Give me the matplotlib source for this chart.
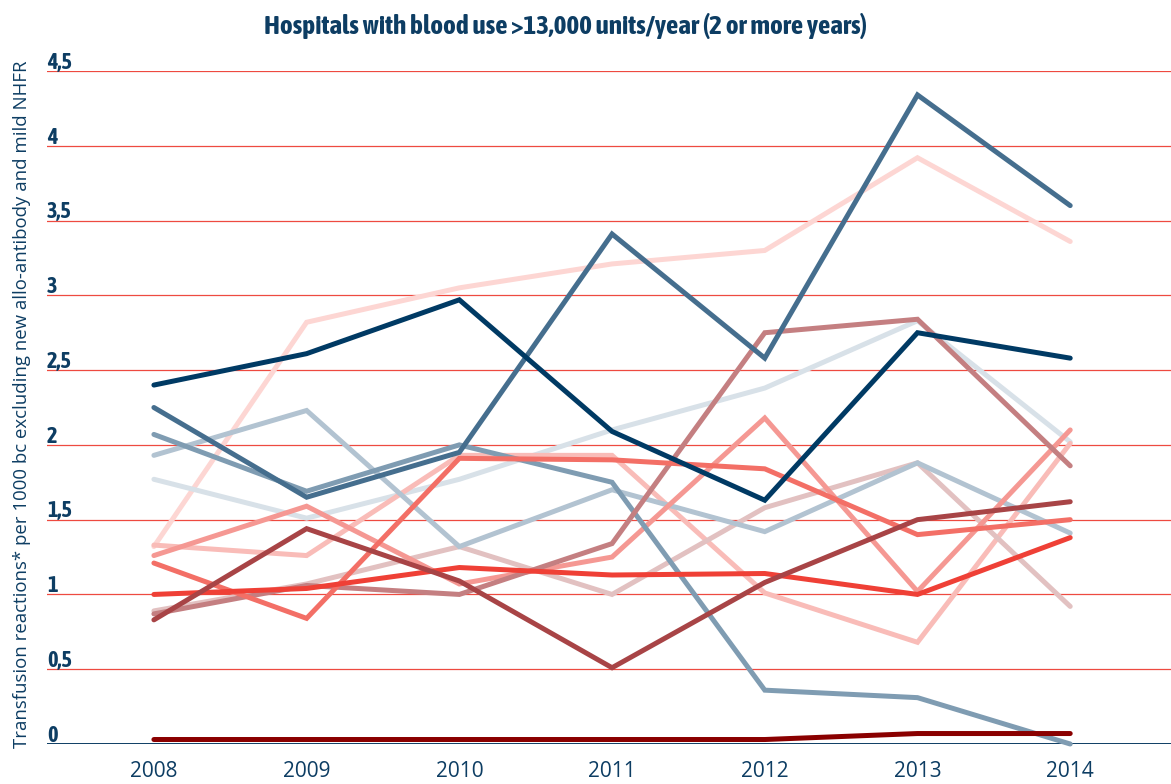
import matplotlib
matplotlib.use("Agg")
import matplotlib.pyplot as plt
import matplotlib.transforms as mtransforms

years = [2008, 2009, 2010, 2011, 2012, 2013, 2014]

s_navy       = [2.40, 2.61, 2.97, 2.09, 1.63, 2.75, 2.58]
s_steel      = [2.25, 1.65, 1.95, 3.41, 2.58, 4.34, 3.60]
s_greyblue   = [2.07, 1.69, 2.00, 1.75, 0.36, 0.31, 0.00]
s_lightblue  = [1.93, 2.23, 1.32, 1.70, 1.42, 1.88, 1.41]
s_paleblue   = [1.77, 1.51, 1.77, 2.10, 2.38, 2.83, 2.02]
s_palepink   = [1.32, 2.82, 3.05, 3.21, 3.30, 3.92, 3.36]
s_darkred    = [0.03, 0.03, 0.03, 0.03, 0.03, 0.07, 0.07]
s_brownred   = [0.83, 1.44, 1.09, 0.51, 1.08, 1.50, 1.62]
s_dustyrose  = [0.87, 1.06, 1.00, 1.34, 2.75, 2.84, 1.86]
s_dustypink  = [0.89, 1.07, 1.32, 1.00, 1.58, 1.88, 0.92]
s_red        = [1.00, 1.04, 1.18, 1.13, 1.14, 1.00, 1.38]
s_salmon     = [1.21, 0.84, 1.91, 1.90, 1.84, 1.40, 1.50]
s_lightsalm  = [1.26, 1.59, 1.07, 1.25, 2.18, 1.02, 2.10]
s_lightpink  = [1.33, 1.26, 1.93, 1.93, 1.01, 0.68, 2.01]

series = [
    (s_palepink,  "#fdd6d3"),
    (s_paleblue,  "#d8e1e8"),
    (s_lightpink, "#f9bcb8"),
    (s_dustypink, "#e2c1c1"),
    (s_lightblue, "#b2c3d1"),
    (s_lightsalm, "#f59893"),
    (s_greyblue,  "#7f9cb2"),
    (s_dustyrose, "#c47f81"),
    (s_salmon,    "#f36f66"),
    (s_red,       "#ef4036"),
    (s_brownred,  "#a84446"),
    (s_darkred,   "#8a0000"),
    (s_steel,     "#456e8e"),
    (s_navy,      "#003a64"),
]

yticks = [0, 0.5, 1, 1.5, 2, 2.5, 3, 3.5, 4, 4.5]
ytick_labels = ["0", "0,5", "1", "1,5", "2", "2,5", "3", "3,5", "4", "4,5"]

title = "Hospitals with blood use >13,000 units/year (2 or more years)"
ylabel = "Transfusion reactions* per 1000 bc excluding new allo-antibody and mild NHFR"

COND = ["Asap Condensed", "DejaVu Sans"]
REG = ["Open Sans", "DejaVu Sans"]
TXT = "#0d3d63"

fig = plt.figure(figsize=(11.71, 7.84), dpi=100)
ax = fig.add_axes([47 / 1171, 40 / 784, 1 - 47 / 1171, 673 / 784])
ax.set_xlim(2007.3, 2014.66)
ax.set_ylim(0, 4.5)

for y in yticks[1:]:
    ax.axhline(y, color="#ee4a40", lw=0.9, zorder=1)
ax.axhline(0, color="#0d3d63", lw=1.4, zorder=1)

for vals, col in series:
    ax.plot(years, vals, color=col, lw=3.6, solid_capstyle="round",
            solid_joinstyle="miter", clip_on=False, zorder=3)

for s in ax.spines.values():
    s.set_visible(False)
ax.set_yticks([])
ax.set_xticks(years)
ax.set_xticklabels([str(y) for y in years], fontsize=15, color=TXT, family=REG)
ax.tick_params(axis="x", length=0, pad=12)

trans = mtransforms.blended_transform_factory(ax.transAxes, ax.transData)
for y, lab in zip(yticks, ytick_labels):
    ax.text(0.0, y + 0.015, lab, transform=trans, ha="left", va="baseline",
            fontsize=16, fontweight="bold", color=TXT, family=COND)

fig.text(0.483, 0.967, title, ha="center", va="center", fontsize=19.5,
         fontweight="bold", color=TXT, family=COND)
fig.text(0.019, 0.485, ylabel, rotation=90, ha="center", va="center",
         fontsize=13.4, color=TXT, family=REG)

fig.savefig("out.png", dpi=100)
